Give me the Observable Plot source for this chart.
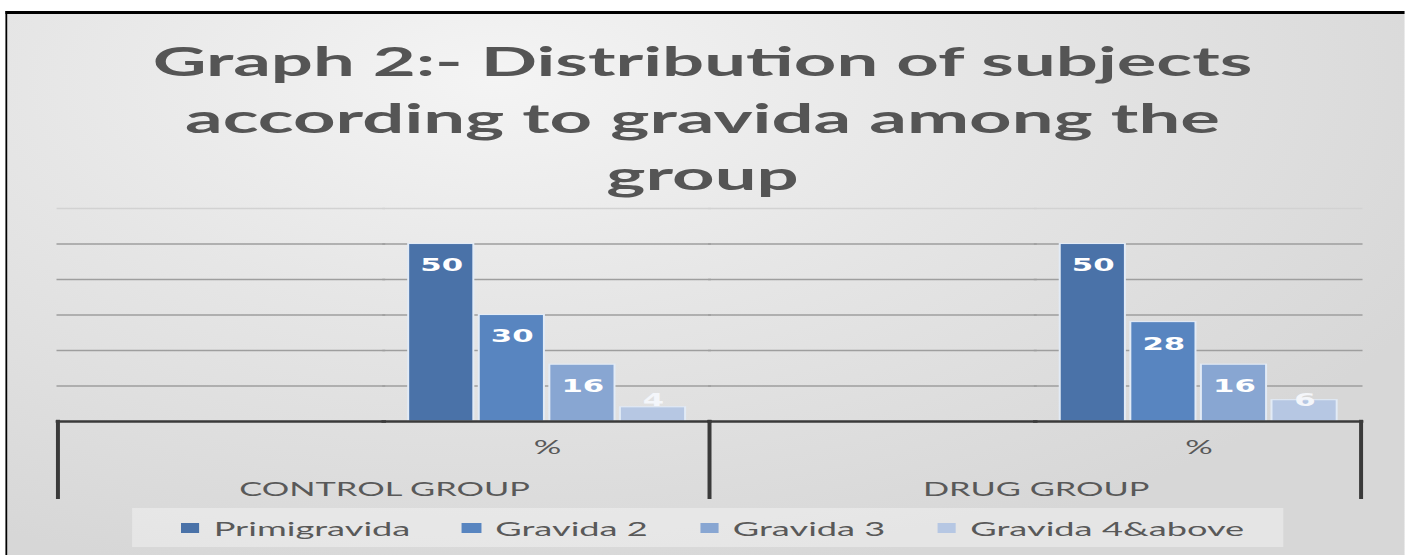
<!DOCTYPE html>
<html><head><meta charset="utf-8">
<script src="https://cdn.jsdelivr.net/npm/d3@7"></script>
<script src="https://cdn.jsdelivr.net/npm/@observablehq/plot@0.6"></script>
<style>
html,body{margin:0;padding:0;width:1405px;height:555px;overflow:hidden;background:#fff;}
#stage{position:absolute;left:0;top:0;height:555px;transform-origin:0 0;font-family:Lato,"Open Sans",sans-serif;}
#frame{position:absolute;top:11px;right:0;bottom:0;border-top:3px solid #000;
  background:radial-gradient(ellipse 75% 95% at 35% 12%, #f4f4f4 0%, #e6e6e6 45%, #d7d7d7 100%);}
#title{position:absolute;left:0;right:0;top:32px;text-align:center;font-weight:700;font-size:41px;line-height:57px;color:#555555;}
#chart{position:absolute;left:0;top:190px;}
#legend{position:absolute;top:508px;height:39px;display:flex;align-items:center;justify-content:center;background:rgba(255,255,255,0.35);font-size:20px;color:#595959;}
.item{display:flex;align-items:center;}
.sw{display:inline-block;height:10px;}
</style></head><body>
<div id="stage">
  <div id="frame"></div>
  <div id="title">Graph 2:- Distribution of subjects<br>according to gravida among the<br>group</div>
  <div id="chart"></div>
  <div id="legend"></div>
</div>
<script>
// ---- data ----
const groups = ["CONTROL GROUP", "DRUG GROUP"];
const subLabels = ["", "%"];
const series = ["Primigravida", "Gravida 2", "Gravida 3", "Gravida 4&above"];
const controlValues = [50, 30, 16, 4];
const drugValues = [50, 28, 16, 6];
const colors = ["#4a72a8", "#5885c0", "#88a6d2", "#b6c7e3"];
const yTicks = [10, 20, 30, 40, 50];
const yTop = 60;

// ---- layout (reference image is horizontally stretched) ----
const S = 1.81;
const W = 1405 / S;
const stage = document.getElementById("stage");
stage.style.width = W + "px";
stage.style.transform = `scaleX(${S})`;
const frame = document.getElementById("frame");
frame.style.left = (6 / S) + "px";
frame.style.borderLeft = (3 / S) + "px solid #000";

const rows = [];
groups.forEach((g, gi) => series.forEach((s, si) => rows.push({
  group: g, key: g + "|%", series: s, value: (gi ? drugValues : controlValues)[si]
})));
const keys = groups.flatMap(g => subLabels.map(s => g + "|" + s));

const plot = Plot.plot({
  width: W,
  height: 315,
  marginTop: 18,
  marginBottom: 84,
  marginLeft: 57 / S,
  marginRight: (1405 - 1361) / S,
  style: {background: "transparent", fontFamily: "Lato, sans-serif", fontSize: "19px", color: "#595959", overflow: "visible"},
  fx: {domain: keys, padding: 0, label: null, tickFormat: k => k.split("|")[1], tickSize: 0, tickPadding: 19},
  x: {domain: series, paddingInner: 0.07, paddingOuter: 0.33, axis: null},
  y: {domain: [0, yTop], axis: null},
  color: {domain: series, range: colors},
  marks: [
    Plot.ruleY(yTicks, {stroke: "#9e9e9e", strokeWidth: 1.6, strokeLinecap: "square"}),
    Plot.ruleY([yTop], {stroke: "#d2d2d2", strokeWidth: 1.5, strokeLinecap: "square"}),
    Plot.barY(rows, {fx: "key", x: "series", y: "value", fill: "series", stroke: "#e2ebf6", strokeWidth: 1.1}),
    Plot.ruleY([0], {stroke: "#3a3a3a", strokeWidth: 2.5, strokeLinecap: "square"}),
    Plot.text(rows.filter(d => d.value >= 10), {fx: "key", x: "series", y: "value", text: d => String(d.value), dy: 22,
      fill: "white", fontWeight: "bold", fontSize: 17, fontFamily: "DejaVu Sans"}),
    Plot.text(rows.filter(d => d.value < 10), {fx: "key", x: "series", y: 0, text: d => String(d.value), dy: -21,
      fill: "#f4f6fa", fontWeight: "bold", fontSize: 17, fontFamily: "DejaVu Sans"}),
    Plot.text(groups, {fx: g => g + "|", text: d => d, frameAnchor: "bottom-right", textAnchor: "middle", dy: 75,
      fontSize: 19, fill: "#595959"})
  ]
});
document.getElementById("chart").appendChild(plot);

// multi-level category box lines, from the library's fx and y scales
const fxS = plot.scale("fx"), yS = plot.scale("y");
const fxa = k => fxS.apply(k);
const bw = fxS.bandwidth;
const y0 = yS.apply(0);
const xs = [fxa(keys[0]), fxa(keys[2]), fxa(keys[3]) + bw];
d3.select(plot).append("g").selectAll("line").data(xs).join("line")
  .attr("x1", d => d).attr("x2", d => d).attr("y1", y0 - 1.2).attr("y2", y0 + 78)
  .attr("stroke", "#3a3a3a").attr("stroke-width", 2.2);

// legend
const legend = document.getElementById("legend");
legend.style.left = (133 / S) + "px";
legend.style.width = ((1284 - 133) / S) + "px";
legend.style.gap = (52 / S) + "px";
legend.style.paddingLeft = (8 / S) + "px";
legend.style.boxSizing = "border-box";
series.forEach((s, i) => {
  const it = document.createElement("span");
  it.className = "item";
  const sw = document.createElement("span");
  sw.className = "sw";
  sw.style.width = (19 / S) + "px";
  sw.style.background = colors[i];
  sw.style.marginRight = (14 / S) + "px";
  const t = document.createElement("span");
  t.textContent = s;
  it.appendChild(sw); it.appendChild(t);
  legend.appendChild(it);
});
</script>
</body></html>
